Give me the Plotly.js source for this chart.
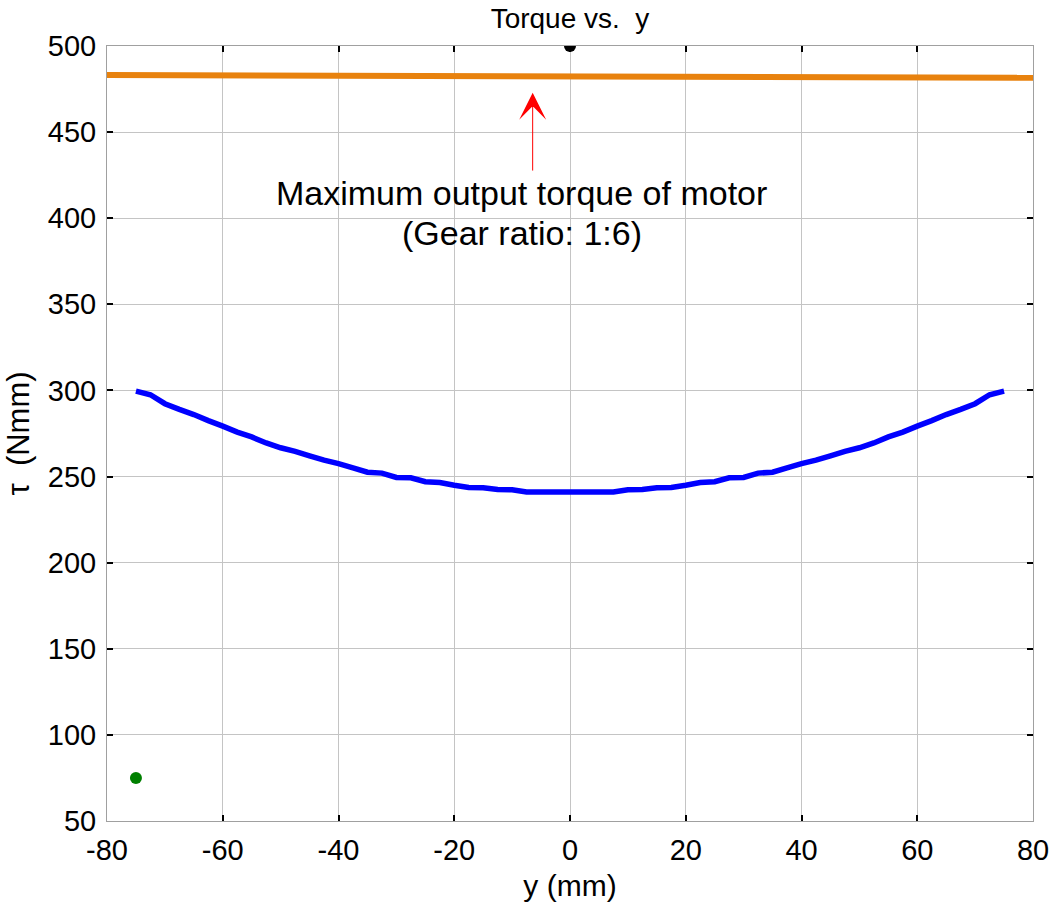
<!DOCTYPE html>
<html>
<head>
<meta charset="utf-8">
<script src="https://cdn.plot.ly/plotly-3.0.1.min.js"></script>
<style>
  html, body { margin: 0; padding: 0; background: #fff; }
  #chart { width: 1050px; height: 908px; }
</style>
</head>
<body>
<div id="chart"></div>
<script>
// torque curve along y (mm)
const yPos = [
  -75, -72.5, -70, -67.5, -65, -62.5, -60, -57.5, -55, -52.5, -50, -47.5, -45, -42.5, -40, -37.5,
  -35, -32.5, -30, -27.5, -25, -22.5, -20, -17.5, -15, -12.5, -10, -7.5, -5, -2.5, 0,
  2.5, 5, 7.5, 10, 12.5, 15, 17.5, 20, 22.5, 25, 27.5, 30, 32.5, 35, 37.5,
  40, 42.5, 45, 47.5, 50, 52.5, 55, 57.5, 60, 62.5, 65, 67.5, 70, 72.5, 75
]
const torque = [
  299.6, 297.5, 292.3, 289.0, 286.0, 282.5, 279.3, 275.8, 273.0, 269.5, 266.7, 264.6, 262.0, 259.5, 257.5, 255.0,
  252.5, 252.0, 249.5, 249.3, 247.0, 246.5, 245.0, 243.7, 243.5, 242.5, 242.3, 241.0, 241.0, 241.0, 241.0,
  241.0, 241.0, 241.0, 242.3, 242.5, 243.5, 243.7, 245.0, 246.5, 247.0, 249.3, 249.5, 252.0, 252.5, 255.0,
  257.5, 259.5, 262.0, 264.6, 266.7, 269.5, 273.0, 275.8, 279.3, 282.5, 286.0, 289.0, 292.3, 297.5, 299.6
]

// max motor torque (gear ratio 1:6)
const motorX = [-80, 80]
const motorTorque = [483.2, 481.5]

// single markers
const blackPtX = [0]
const blackPtY = [500]
const greenPtX = [-75]
const greenPtY = [75]

const xTicks = [-80, -60, -40, -20, 0, 20, 40, 60, 80]
const yTicks = [50, 100, 150, 200, 250, 300, 350, 400, 450, 500]

// annotation anchors (data units)
const arrowTip = {x: -6.45, y: 472.9}
const arrowTail = {x: -6.45, y: 426.8}
const noteLines = ["Maximum output torque of motor", "(Gear ratio: 1:6)"]
const noteX = -8.3
const noteY = [414.5, 391.5]

const FONT = "Liberation Sans, Arial, Helvetica, sans-serif"

const data = [
  {x: motorX, y: motorTorque, type: "scatter", mode: "lines", hoverinfo: "skip",
    line: {color: "#e8820e", width: 6}},
  {x: yPos, y: torque, type: "scatter", mode: "lines",
    line: {color: "#0000ff", width: 5.5, simplify: false}},
  {x: blackPtX, y: blackPtY, type: "scatter", mode: "markers",
    marker: {color: "#000", size: 12}},
  {x: greenPtX, y: greenPtY, type: "scatter", mode: "markers",
    marker: {color: "#008000", size: 12}}
]

const annotations = [
  {x: arrowTip.x, y: arrowTip.y, ax: arrowTail.x, ay: arrowTail.y, axref: "x", ayref: "y",
    text: "", showarrow: true, arrowhead: 3, arrowsize: 4.5, arrowwidth: 1, arrowcolor: "#ff0000"},
  ...noteLines.map((t, i) => ({
    x: noteX, y: noteY[i], text: t, showarrow: false, xanchor: "center", yanchor: "middle",
    font: {family: FONT, size: 34, color: "#000"}
  }))
]

const axisCommon = {
  showgrid: true, gridcolor: "#c4c4c4", gridwidth: 1,
  showline: true, linecolor: "#a0a0a0", linewidth: 1, mirror: "ticks",
  ticks: "inside", ticklen: 6, tickwidth: 2, tickcolor: "#000",
  zeroline: false,
  tickfont: {family: FONT, size: 29, color: "#000"}
}

const layout = {
  width: 1050, height: 908,
  paper_bgcolor: "#fff", plot_bgcolor: "#fff",
  margin: {l: 107, r: 17, t: 46, b: 87},
  showlegend: false,
  font: {family: FONT, color: "#000"},
  title: {text: "Torque vs.&nbsp; y", x: 0.5, xref: "paper", y: 0.9805, yref: "container", yanchor: "middle",
    font: {family: FONT, size: 28, color: "#000"}},
  xaxis: {...axisCommon, range: [-80, 80], tickvals: xTicks, ticktext: xTicks.map(String),
    ticklabelstandoff: 3,
    title: {text: "y (mm)", standoff: 10, font: {family: FONT, size: 30, color: "#000"}}},
  yaxis: {...axisCommon, range: [50, 500], tickvals: yTicks, ticktext: yTicks.map(String),
    ticklabelstandoff: 4,
    title: {text: "τ&nbsp; (Nmm)", standoff: 8, font: {family: FONT, size: 31, color: "#000"}}},
  annotations
}

Plotly.newPlot("chart", data, layout, {displayModeBar: false, staticPlot: true})
</script>
</body>
</html>
